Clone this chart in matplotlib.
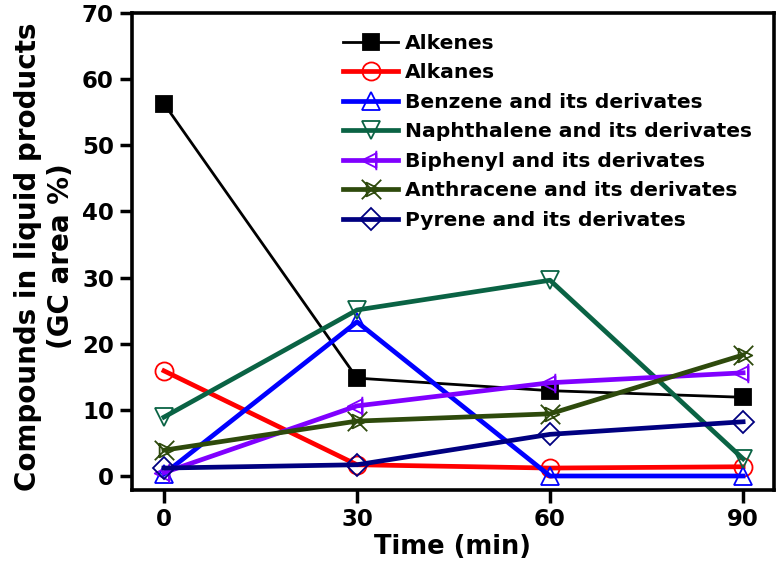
import matplotlib.pyplot as plt
from matplotlib.path import Path
import numpy as np

plt.rcParams['font.family'] = ['DejaVu Sans']
plt.rcParams['font.weight'] = 'bold'

time = [0, 30, 60, 90]
alkenes = [56.3, 14.8, 12.9, 11.9]
alkanes = [15.9, 1.7, 1.2, 1.4]
benzene = [0.3, 23.3, 0.0, 0.0]
naphthalene = [8.9, 25.1, 29.6, 2.6]
biphenyl = [0.5, 10.6, 14.1, 15.6]
anthracene = [3.9, 8.3, 9.4, 18.3]
pyrene = [1.2, 1.7, 6.3, 8.2]

# left triangle with a bar through its base
tri_bar = Path([(-1, 0), (0.5, 0.75), (0.5, -0.75), (-1, 0), (0.5, 1.0), (0.5, -1.0)],
               [Path.MOVETO, Path.LINETO, Path.LINETO, Path.CLOSEPOLY, Path.MOVETO, Path.LINETO])
# cross with a right triangle
cross_tri = Path([(-1, -1), (1, 1), (-1, 1), (1, -1), (-0.5, 0.7), (0.9, 0), (-0.5, -0.7), (-0.5, 0.7)],
                 [Path.MOVETO, Path.LINETO, Path.MOVETO, Path.LINETO,
                  Path.MOVETO, Path.LINETO, Path.LINETO, Path.CLOSEPOLY])

series = [
    ("Alkenes", alkenes, 'black', 's', 'black', 2.0, 12),
    ("Alkanes", alkanes, '#ff0000', 'o', 'none', 3.4, 13),
    ("Benzene and its derivates", benzene, '#0000ff', '^', 'none', 3.4, 13.5),
    ("Naphthalene and its derivates", naphthalene, '#0a6344', 'v', 'none', 3.4, 13.5),
    ("Biphenyl and its derivates", biphenyl, '#8000ff', tri_bar, 'none', 3.4, 14),
    ("Anthracene and its derivates", anthracene, '#2e4a0c', cross_tri, 'none', 3.4, 14),
    ("Pyrene and its derivates", pyrene, '#000080', 'D', 'none', 3.4, 11),
]

fig = plt.figure(figsize=(7.8, 5.81), dpi=100)
ax = fig.add_axes([0.1692, 0.1566, 0.8231, 0.821])

for name, vals, col, mk, fc, lw, ms in series:
    ax.plot(time, vals, color=col, lw=lw, marker=mk, ms=ms, mfc=fc, mec=col, mew=1.3, label=name)

ax.set_xlim(-4.97, 94.8)
ax.set_ylim(-2.12, 70)
ax.set_xticks(time)
ax.set_yticks(np.arange(0, 71, 10))
ax.tick_params(direction='out', length=9, width=2.5, labelsize=16.5, pad=4)
for s in ax.spines.values():
    s.set_linewidth(2.6)

ax.set_xlabel("Time (min)", fontsize=18.5, fontweight='bold', labelpad=2)
ax.set_ylabel("Compounds in liquid products\n(GC area %)", fontsize=20, fontweight='bold')
ax.yaxis.set_label_coords(-0.089, 0.49)

ax.legend(loc='upper left', bbox_to_anchor=(0.44, 0.942), bbox_transform=fig.transFigure,
          frameon=False, fontsize=14.6, handlelength=2.7, labelspacing=0.52,
          handletextpad=0.35, borderpad=0, borderaxespad=0)

fig.savefig("out.png", dpi=100)
